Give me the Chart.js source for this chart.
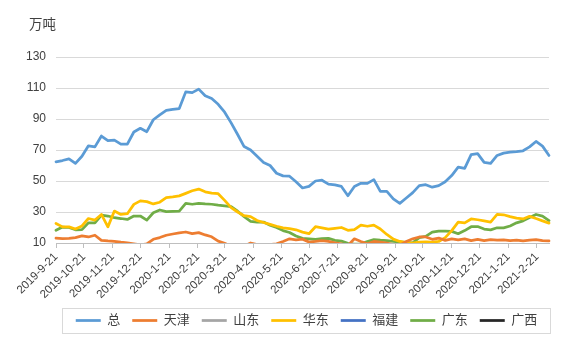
<!DOCTYPE html>
<html><head><meta charset="utf-8">
<script src="https://cdn.jsdelivr.net/npm/chart.js@4"></script>
<style>html,body{margin:0;padding:0;background:#fff}#wrap{width:567px;height:340px}</style>
</head><body><div id="wrap"><canvas id="c" width="567" height="340"></canvas></div>
<script>
const startDate = '2019-9-21';
const monthLabels = ['2019-9-21','2019-10-21','2019-11-21','2019-12-21','2020-1-21','2020-2-21','2020-3-21','2020-4-21','2020-5-21','2020-6-21','2020-7-21','2020-8-21','2020-9-21','2020-10-21','2020-11-21','2020-12-21','2021-1-21','2021-2-21'];
const yTicks = [10,30,50,70,90,110,130];
const seriesNames = ['总','天津','山东','华东','福建','广东','广西'];

const total = [62.4,63.2,64.3,61.4,66,72.7,72,79,76,76.4,73.8,73.8,81.6,84,81.8,89.5,92.7,95.6,96.2,96.7,107.5,107,109.3,105,103.2,99.5,94.4,87.5,80,72.2,70,66,62,60,55,53.3,53.1,49.5,45.5,46.5,50,50.5,48,47.5,46.5,40.5,46.5,48.5,48.5,50.9,43.3,43.3,38.5,35.6,39,42.5,47,47.6,46,47,49.5,53.5,59,58.1,67,67.7,62,61.4,66.5,68,68.6,69,69.5,72,75.5,72.5,66.5];
const tianjin = [13.2,12.8,13,13.5,14.6,13.9,15,11.7,11.3,11,10.5,10.1,9.5,8.8,9.4,12.4,13.5,15,15.8,16.5,17.1,16,16.7,15.2,14,11.2,9.8,8,7,8,10,9,8.5,9,9.5,11,12.7,12,12.5,10.6,11,11.5,11,10.1,9.5,8.4,12.7,11,9.5,11,10.5,10,9,8.6,11,12.7,13.9,13.9,12.4,13.2,11.7,12.7,12,12.7,11.5,12.3,11.5,12.2,11.8,12,11.6,11.8,11.3,11.8,12.2,11.5,11.3];
const shandong = [];
const huadong = [22.6,20.4,20.4,19,21,25.8,24.8,28.4,20.4,30.6,28.4,28.9,34.9,37.2,36.7,35.2,36.3,39.3,39.8,40.4,42,43.7,44.8,43,42.2,41.8,37.5,32.8,30,27.6,27,24.5,23.2,22,20.8,19.8,19.3,18.5,17,16,20.5,19.8,19,19.5,20,18.2,18.6,21.5,20.8,21.5,19,15.5,12.5,11,10.3,10,10.5,10.8,10.6,11,13.5,18,23.5,23,25.5,25,24.3,23.5,28.4,28.2,27,26,25.5,27.2,25.8,24.3,22.8];
const fujian = [];
const guangdong = [18.2,20.3,20,18.5,18.6,23,23,28,27.4,26.3,25.8,25.2,27.4,27.4,24.8,29.5,31.3,30.2,30.4,30.6,35.6,35,35.6,35.2,35,34.4,34,33.5,30.5,27,24,23.5,23.5,21.5,20,18,16.8,14.5,13,12.7,12.4,12.8,13,11.7,11.2,9.8,9.3,9.5,11,12.2,11.8,11.5,11,10.7,10.4,10.1,13.5,14.3,17,17.6,17.6,17.5,16,18,20.5,20.6,19,18.5,19.8,19.8,21,23,24.3,26.5,28.4,27.3,24.5];
const guangxi = [];

const colors = ['#5B9BD5','#ED7D31','#A5A5A5','#FFC000','#4472C4','#70AD47','#262626'];
const seriesData = [total, tianjin, shandong, huadong, fujian, guangdong, guangxi];

function dayOf(s){const p=s.split('-').map(Number);return Date.UTC(p[0],p[1]-1,p[2])/86400000;}
const d0 = dayOf(startDate);
const monthDays = monthLabels.map(l => dayOf(l) - d0);
const weekDays = total.map((_, i) => i * 7);

const FONT = "'Liberation Sans','Noto Sans CJK SC',sans-serif";

const titlePlugin = {
  id: 'unitTitle',
  afterLayout(chart) {
    const lg = chart.legend;
    if (lg) { lg.left += 32; lg.right += 32; }
  },
  afterDraw(chart) {
    const ctx = chart.ctx;
    ctx.save();
    ctx.font = "13.5px " + FONT;
    ctx.fillStyle = '#404040';
    ctx.textBaseline = 'middle';
    ctx.textAlign = 'left';
    ctx.fillText('万吨', 29, 25);
    const lg = chart.legend;
    if (lg && lg.legendHitBoxes && lg.legendHitBoxes.length) {
      let l = Infinity, r = -Infinity, t = Infinity, b = -Infinity;
      lg.legendHitBoxes.forEach(h => { l = Math.min(l, h.left); r = Math.max(r, h.left + h.width); t = Math.min(t, h.top); b = Math.max(b, h.top + h.height); });
      ctx.strokeStyle = '#D9D9D9';
      ctx.lineWidth = 1;
      ctx.strokeRect(Math.round(l - 14) + 0.5, Math.round(t - 6) + 0.5, Math.round(r - l + 26), Math.round(b - t + 12));
    }
    ctx.restore();
  }
};

new Chart(document.getElementById('c'), {
  type: 'line',
  data: {
    labels: weekDays,
    datasets: seriesNames.map((n, k) => ({
      label: n,
      data: seriesData[k],
      borderColor: colors[k],
      backgroundColor: colors[k],
      borderWidth: 2.75,
      pointRadius: 0,
      tension: 0,
      borderJoinStyle: 'round',
      borderCapStyle: 'round',
      clip: {left: 5, right: 5, top: 5, bottom: 0},
      fill: false
    }))
  },
  options: {
    responsive: false,
    animation: false,
    devicePixelRatio: 1,
    layout: { padding: { left: 0, right: 18, top: 57, bottom: 3 } },
    plugins: {
      tooltip: { enabled: false },
      legend: {
        position: 'bottom',
        labels: {
          usePointStyle: true,
          pointStyle: 'line',
          pointStyleWidth: 25,
          color: '#404040',
          font: { family: FONT, size: 13 },
          padding: 12
        }
      }
    },
    scales: {
      x: {
        type: 'linear',
        min: 0,
        max: weekDays[weekDays.length - 1],
        afterBuildTicks: s => { s.ticks = monthDays.map(v => ({ value: v })); },
        afterFit: s => { s.height = 59; },
        ticks: {
          autoSkip: false,
          minRotation: 45,
          maxRotation: 45,
          color: '#404040',
          font: { family: FONT, size: 11.5 },
          padding: 2,
          callback: v => { const i = monthDays.indexOf(v); return i >= 0 ? monthLabels[i] : ''; }
        },
        grid: { display: true, drawOnChartArea: false, drawTicks: true, tickLength: 5, color: '#BFBFBF' },
        border: { display: true, color: '#BFBFBF', width: 1 }
      },
      y: {
        min: 10,
        max: 130,
        afterBuildTicks: s => { s.ticks = yTicks.map(v => ({ value: v })); },
        afterFit: s => { s.width = 56; },
        ticks: { color: '#404040', font: { family: FONT, size: 12 }, padding: 10 },
        grid: { color: '#D9D9D9', lineWidth: 1, drawTicks: false },
        border: { display: false }
      }
    }
  },
  plugins: [titlePlugin]
});
</script></body></html>
